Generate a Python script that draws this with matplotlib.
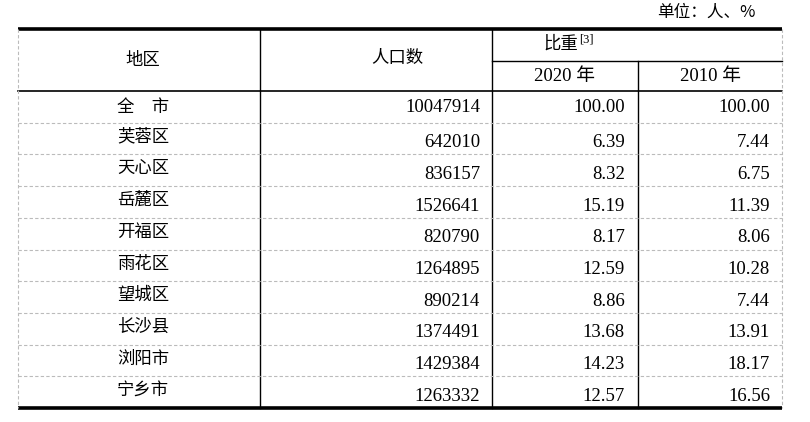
import matplotlib
matplotlib.use('Agg')
import matplotlib.pyplot as plt

# data
regions = ['全\u3000市', '芙蓉区', '天心区', '岳麓区', '开福区', '雨花区',
           '望城区', '长沙县', '浏阳市', '宁乡市']
population = [10047914, 642010, 836157, 1526641, 820790, 1264895,
              890214, 1374491, 1429384, 1263332]
share_2020 = [100.00, 6.39, 8.32, 15.19, 8.17, 12.59, 8.86, 13.68, 14.23, 12.57]
share_2010 = [100.00, 7.44, 6.75, 11.39, 8.06, 10.28, 7.44, 13.91, 18.17, 16.56]

cjk = ['Noto Sans CJK SC', 'DejaVu Sans']
num = ['Liberation Serif', 'Noto Sans CJK SC']
cw = 'light'

fig = plt.figure(figsize=(8.1, 4.22), dpi=100)
ax = fig.add_axes([0, 0, 1, 1])
ax.set_xlim(0, 810)
ax.set_ylim(422, 0)
ax.axis('off')

x_left, x_right = 18, 782
col_x = [260, 492, 638]
y_top, y_mid, y_head = 29, 61, 91
row_h = 31.7
n = len(regions)
y_bot = y_head + row_h * n

# outer frame
ax.plot([x_left, x_right], [y_top, y_top], color='black', lw=2.6, solid_capstyle='butt')
ax.plot([x_left, x_right], [y_bot, y_bot], color='black', lw=2.6, solid_capstyle='butt')
ax.plot([x_left, x_right], [y_head, y_head], color='black', lw=1.2)
ax.plot([col_x[1], x_right], [y_mid, y_mid], color='black', lw=1.0)
for xx in [x_left, x_right]:
  ax.plot([xx, xx], [y_top, y_bot], color='#bbbbbb', lw=0.8, ls=(0, (3, 2)))
ax.plot([col_x[0], col_x[0]], [y_top, y_bot], color='black', lw=1.0)
ax.plot([col_x[1], col_x[1]], [y_top, y_bot], color='black', lw=1.0)
ax.plot([col_x[2], col_x[2]], [y_mid, y_bot], color='black', lw=1.0)

# row separators
for i in range(1, n):
  yy = y_head + row_h * i
  ax.plot([x_left, x_right], [yy, yy], color='#bbbbbb', lw=0.8, ls=(0, (3, 2)))

# header
ax.text(755, 12, '单位：人、%', family=cjk, weight=cw, fontsize=12, ha='right', va='center')
ax.text(143, 60, '地区', family=cjk, weight=cw, fontsize=12.5, ha='center', va='center')
ax.text(397, 58, '人口数', family=cjk, weight=cw, fontsize=12.5, ha='center', va='center')
ax.text(578, 44, '比重', family=cjk, weight=cw, fontsize=12.5, ha='right', va='center')
ax.text(579, 39, '[3]', family=num, fontsize=9, ha='left', va='center')
ax.text(565, 76, '2020 年', family=num, fontsize=13.5, ha='center', va='center')
ax.text(711, 76, '2010 年', family=num, fontsize=13.5, ha='center', va='center')

# body
for i in range(n):
  top = y_head + row_h * i
  y_name = top + (16 if i == 0 else 14)
  y_num = top + (16 if i == 0 else 20)
  ax.text(143, y_name, regions[i], family=cjk, weight=cw, fontsize=12.5,
          ha='center', va='center')
  ax.text(480, y_num, '%d' % population[i], family=num, fontsize=13.5,
          ha='right', va='center')
  ax.text(625, y_num, '%.2f' % share_2020[i], family=num, fontsize=13.5,
          ha='right', va='center')
  ax.text(770, y_num, '%.2f' % share_2010[i], family=num, fontsize=13.5,
          ha='right', va='center')

fig.savefig('out.png', dpi=100)
